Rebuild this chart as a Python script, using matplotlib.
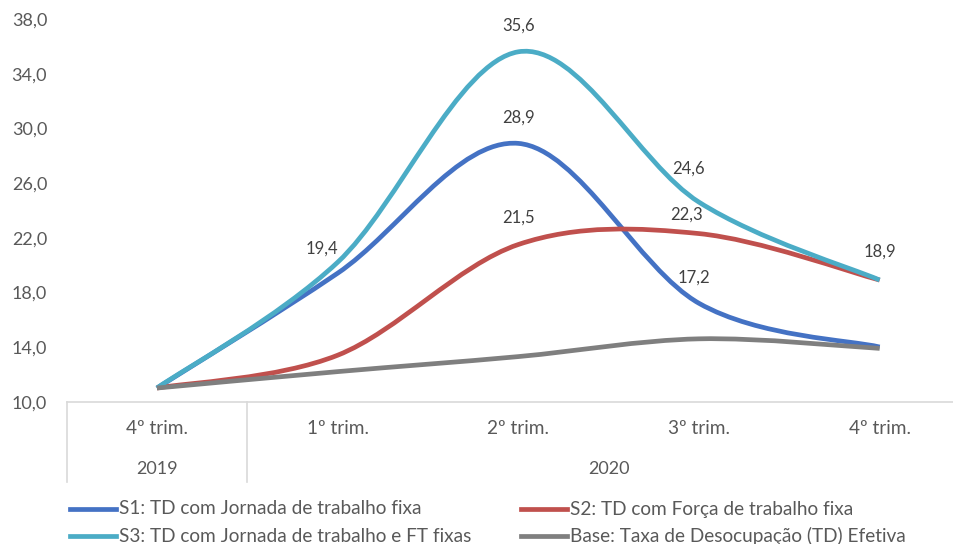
import matplotlib.pyplot as plt
import numpy as np
from matplotlib.lines import Line2D
from matplotlib.patches import PathPatch
from matplotlib.path import Path
from matplotlib.ticker import FuncFormatter

# ---------- data ----------
quarters = ["4º trim.", "1º trim.", "2º trim.", "3º trim.", "4º trim."]
years = ["2019", "2020"]
year_first = [0, 1]
year_last = [0, 4]

s1 = [11.0, 19.4, 28.9, 17.2, 14.0]
s2 = [11.0, 13.4, 21.5, 22.3, 18.9]
s3 = [11.0, 20.2, 35.6, 24.6, 18.9]
base = [11.0, 12.2, 13.3, 14.6, 13.9]

series_names = [
    "S1: TD com Jornada de trabalho fixa",
    "S2: TD com Força de trabalho fixa",
    "S3: TD com Jornada de trabalho e FT fixas",
    "Base: Taxa de Desocupação (TD) Efetiva",
]

# which points carry a value label: (series index, point index)
labelled = [(0, 1), (2, 2), (0, 2), (1, 2), (2, 3), (1, 3), (0, 3), (2, 4)]

# ---------- style ----------
COLORS = ["#4472C4", "#C0504D", "#4BACC6", "#7F7F7F"]
TEXT = "#404040"
TICK = "#595959"
RULE = "#D9D9D9"
FONT = "Lato"
LW = 3.4

# label offsets in pixels (style only)
label_offsets = [(-16, 25), (0, 26), (0, 26), (0, 27), (-10, 34), (-12, 19), (-5, 26), (0, 28)]

plt.rcParams["font.family"] = [FONT, "DejaVu Sans"]


def smooth_path(xs, ys):
    """Excel-like smoothed line: Catmull-Rom turned into cubic Beziers."""
    pts = np.column_stack([xs, ys]).astype(float)
    n = len(pts)
    verts = [pts[0]]
    codes = [Path.MOVETO]
    for i in range(n - 1):
        p0 = pts[max(i - 1, 0)]
        p1 = pts[i]
        p2 = pts[i + 1]
        p3 = pts[min(i + 2, n - 1)]
        c1 = p1 + (p2 - p0) / 6.0
        c2 = p2 - (p3 - p1) / 6.0
        verts += [c1, c2, p2]
        codes += [Path.CURVE4] * 3
    return Path(verts, codes)


fig = plt.figure(figsize=(9.54, 5.44), dpi=100)
ax = fig.add_axes([66.6 / 954, 1 - 401.7 / 544, (970 - 66.6) / 954, (401.7 - 19) / 544])

x = np.arange(len(quarters))
all_series = [s1, s2, s3, base]
for ys, color in zip(all_series, COLORS):
    patch = PathPatch(smooth_path(x, ys), facecolor="none", edgecolor=color,
                      lw=LW, capstyle="butt", joinstyle="round")
    ax.add_patch(patch)

for (si, pi), (dx, dy) in zip(labelled, label_offsets):
    v = all_series[si][pi]
    ax.annotate(f"{v:.1f}".replace(".", ","), (x[pi], v), xytext=(dx, dy),
                textcoords="offset pixels", ha="center", va="center",
                fontsize=12, color=TEXT)

ax.set_xlim(-0.5, len(quarters) - 0.5)
ax.set_ylim(10, 38)
ax.set_yticks(np.arange(10, 39, 4))
ax.yaxis.set_major_formatter(FuncFormatter(lambda v, _: f"{v:.1f}".replace(".", ",")))
ax.tick_params(axis="y", length=0, pad=14, labelsize=13, labelcolor=TICK)
ax.set_xticks([])
for side in ("top", "right", "left"):
    ax.spines[side].set_visible(False)
ax.spines["bottom"].set_color(RULE)
ax.spines["bottom"].set_linewidth(1.2)

# multi-level category axis
tr = ax.get_xaxis_transform()
for i, q in enumerate(quarters):
    ax.text(x[i], -0.069, q, transform=tr, ha="center", va="center",
            fontsize=13.7, color=TICK)
for yr, a, b in zip(years, year_first, year_last):
    ax.text((x[a] + x[b]) / 2, -0.176, yr, transform=tr, ha="center",
            va="center", fontsize=13, color=TICK)
    ax.plot([x[a] - 0.5, x[a] - 0.5], [0, -0.21], transform=tr,
            color=RULE, lw=1.2, clip_on=False)

# legend (two columns, row-wise like Excel)
legend_pos = [(70, 509), (521, 509), (70, 536), (521, 536)]
for name, color, (px, py) in zip(series_names, COLORS, legend_pos):
    fy = 1 - py / 544
    fig.add_artist(Line2D([px / 954, (px + 46) / 954], [fy, fy], color=color,
                          lw=LW, transform=fig.transFigure))
    fig.text((px + 49) / 954, fy, name, ha="left", va="center",
             fontsize=13.7, color=TICK)

fig.savefig("out.png", dpi=100)
